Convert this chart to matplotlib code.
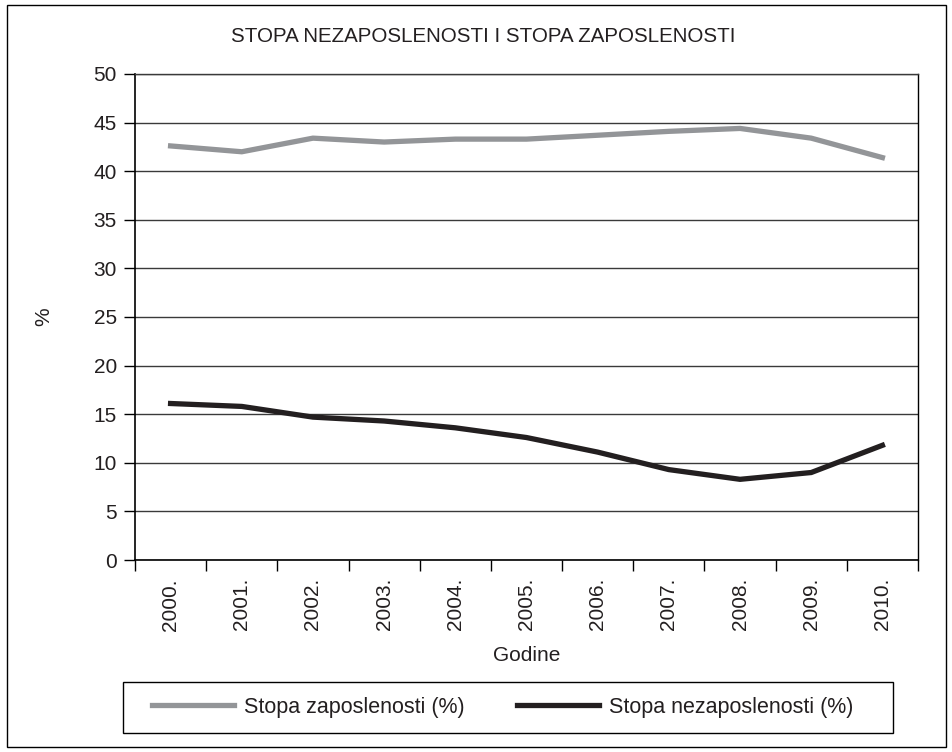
import numpy as np
import matplotlib
matplotlib.use('Agg')
import matplotlib.pyplot as plt
from matplotlib.patches import Rectangle

plt.rcParams['font.family'] = ['Liberation Sans', 'DejaVu Sans']

# data
years = ['2000.', '2001.', '2002.', '2003.', '2004.', '2005.',
         '2006.', '2007.', '2008.', '2009.', '2010.']
zaposlenost = [42.6, 42.0, 43.4, 43.0, 43.3, 43.3, 43.7, 44.1, 44.4, 43.4, 41.4]
nezaposlenost = [16.1, 15.8, 14.7, 14.3, 13.6, 12.6, 11.1, 9.3, 8.3, 9.0, 11.8]
y_ticks = [0, 5, 10, 15, 20, 25, 30, 35, 40, 45, 50]

grey = '#939598'
dark = '#231f20'
txt = '#231f20'

fig = plt.figure(figsize=(9.53, 7.52), dpi=100)
ax = fig.add_axes([135/953, 1 - 560/752, 783/953, 486/752])

x = np.arange(len(years))
l1, = ax.plot(x, zaposlenost, color=grey, lw=3.8, solid_joinstyle='miter')
l2, = ax.plot(x, nezaposlenost, color=dark, lw=3.8, solid_joinstyle='miter')

ax.set_xlim(-0.5, len(years) - 0.5)
ax.set_ylim(0, 50)
ax.set_yticks(y_ticks)
ax.yaxis.grid(True, color='#3a3a3a', lw=1.0)
ax.set_axisbelow(True)

# labels at category centres, tick marks at category boundaries
ax.set_xticks(x)
ax.set_xticklabels(years, rotation=90, fontsize=15, color=txt)
ax.set_xticks(np.arange(-0.5, len(years)), minor=True)
ax.tick_params(axis='x', which='major', length=0, pad=13)
ax.tick_params(axis='x', which='minor', length=8, width=1.0, color='black', direction='out')
ax.tick_params(axis='y', length=8, width=1.0, color='black', direction='out', pad=5,
               labelsize=15, labelcolor=txt)

for s in ['left', 'bottom']:
    ax.spines[s].set_color('black')
    ax.spines[s].set_linewidth(1.2)
ax.spines['right'].set_color('black')
ax.spines['right'].set_linewidth(1.0)
ax.spines['top'].set_color('#3a3a3a')
ax.spines['top'].set_linewidth(1.0)

ax.set_xlabel('Godine', fontsize=15, color=txt, labelpad=11)
ax.set_ylabel('%', fontsize=15, color=txt)
ax.yaxis.set_label_coords(-0.105, 0.5)

fig.text(483/953, 1 - 37/752, 'STOPA NEZAPOSLENOSTI I STOPA ZAPOSLENOSTI',
         ha='center', va='center', fontsize=14.8, color=txt)

leg = fig.legend([l1, l2], ['Stopa zaposlenosti (%)', 'Stopa nezaposlenosti (%)'],
                 ncol=2, loc='center', bbox_to_anchor=(503/953, 1 - 707/752),
                 fontsize=15.5, handlelength=3.8, handletextpad=0.47,
                 columnspacing=2.45, frameon=False)
for t in leg.get_texts():
    t.set_color(txt)

# legend box and outer chart border
fig.patches.append(Rectangle((123/953, 1 - 733/752), 770/953, 51/752, transform=fig.transFigure,
                             fill=False, edgecolor='black', lw=1.0))
fig.patches.append(Rectangle((7/953, 5/752), 939/953, 742/752, transform=fig.transFigure,
                             fill=False, edgecolor='black', lw=1.0))

fig.savefig('out.png', dpi=100)
